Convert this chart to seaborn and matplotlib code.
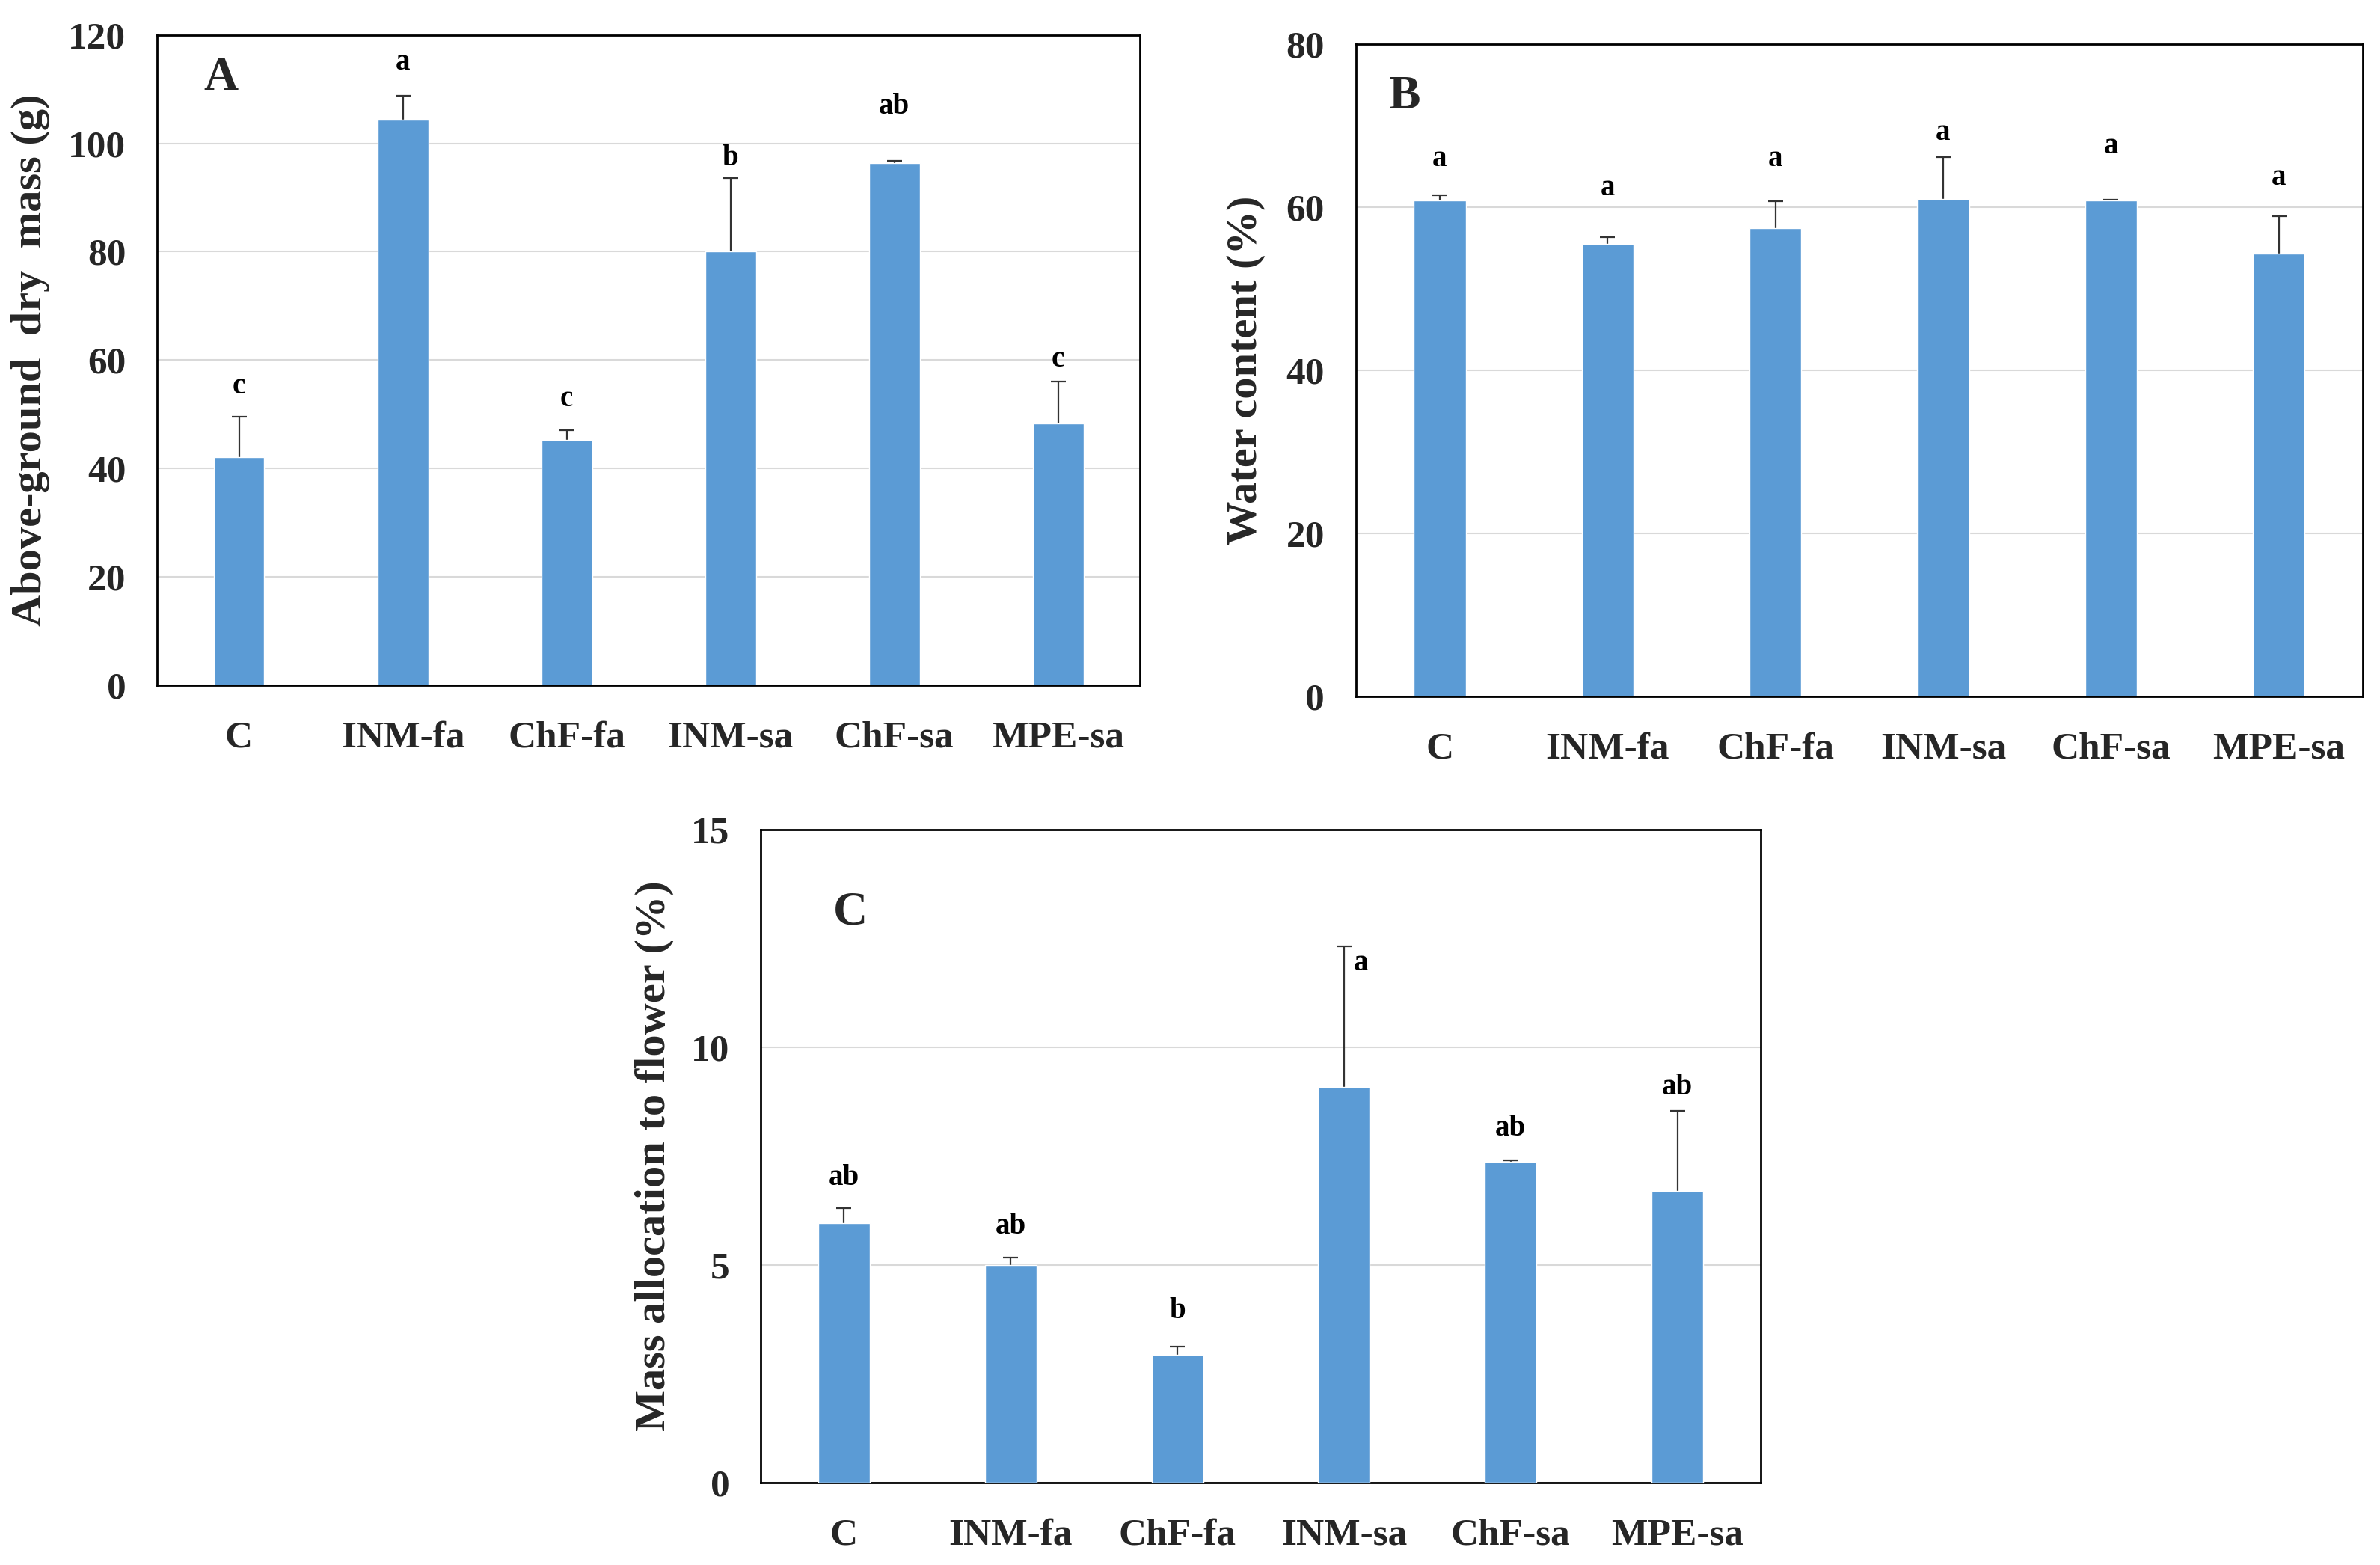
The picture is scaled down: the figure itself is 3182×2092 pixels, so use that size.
import numpy as np
import pandas as pd
import seaborn as sns
import matplotlib
matplotlib.use("Agg")
import matplotlib.pyplot as plt

# ---------------- data ----------------
categories = ["C", "INM-fa", "ChF-fa", "INM-sa", "ChF-sa", "MPE-sa"]

mass_mean = [42.1, 104.3, 45.3, 80.0, 96.4, 48.3]
mass_err = [7.4, 4.5, 1.8, 13.6, 0.3, 7.7]
mass_letters = ["c", "a", "c", "b", "ab", "c"]
mass_letter_y = [55.1, 114.9, 52.8, 97.3, 106.7, 60.1]

water_mean = [60.8, 55.5, 57.4, 61.0, 60.8, 54.3]
water_err = [0.7, 0.8, 3.3, 5.1, 0.1, 4.6]
water_letters = ["a", "a", "a", "a", "a", "a"]
water_letter_y = [65.9, 62.3, 65.9, 69.1, 67.5, 63.6]

flower_mean = [5.97, 5.0, 2.94, 9.09, 7.38, 6.7]
flower_err = [0.33, 0.17, 0.19, 3.23, 0.03, 1.84]
flower_letters = ["ab", "ab", "b", "a", "ab", "ab"]
flower_letter_y = [7.0, 5.89, 3.94, 11.94, 8.13, 9.09]
flower_letter_dx = [0, 0, 0, 0.1, 0, 0]

# ---------------- style ----------------
sns.set_theme(style="white")
plt.rcParams["font.family"] = ["Liberation Serif", "DejaVu Serif"]
plt.rcParams["font.weight"] = "bold"

BAR = "#5B9BD5"
fig = plt.figure(figsize=(31.82, 20.92), dpi=100)

axA = fig.add_axes([0.0660, 0.5622, 0.4130, 0.4155])
axB = fig.add_axes([0.5697, 0.5550, 0.4230, 0.4168])
axC = fig.add_axes([0.3196, 0.0526, 0.4202, 0.4172])


def panel(ax, means, errs, letters, letter_y, ymax, step, ylabel, tag, tag_xy,
          label_x, letter_dx=None):
    df = pd.DataFrame({"cat": categories, "val": means})
    sns.barplot(data=df, x="cat", y="val", order=categories, color=BAR,
                saturation=1, width=0.31, errorbar=None, ax=ax, zorder=3)
    xs = np.arange(len(categories))
    # symmetric bars drawn behind the columns: only the upper half shows
    ax.errorbar(xs, means, yerr=errs, fmt="none",
                ecolor="#333333", elinewidth=1.6, capsize=7, capthick=1.6,
                zorder=2.5)
    if letter_dx is None:
        letter_dx = [0] * len(categories)
    for x, l, y, dx in zip(xs, letters, letter_y, letter_dx):
        ax.text(x + dx, y, l, ha="center", va="center", fontsize=28,
                fontweight="bold", color="black", zorder=5)
    ax.set_ylim(0, ymax)
    ax.set_xlim(-0.5, len(categories) - 0.5)
    ax.set_yticks(np.arange(0, ymax + step / 2, step))
    ax.yaxis.grid(True, color="#d9d9d9", linewidth=1.5, zorder=0)
    ax.set_axisbelow(True)
    ax.set_xlabel("")
    ax.set_ylabel(ylabel, fontsize=42, fontweight="bold")
    ax.yaxis.set_label_coords(label_x, 0.5)
    ax.tick_params(axis="both", length=0, labelsize=37)
    ax.tick_params(axis="x", pad=34)
    ax.tick_params(axis="y", pad=30)
    for lab in ax.get_xticklabels() + ax.get_yticklabels():
        lab.set_fontweight("bold")
    for s in ax.spines.values():
        s.set_visible(True)
        s.set_color("black")
        s.set_linewidth(2.0)
    ax.text(tag_xy[0], tag_xy[1], tag, transform=ax.transAxes,
            fontsize=46, fontweight="bold", ha="center", va="center")


panel(axA, mass_mean, mass_err, mass_letters, mass_letter_y, 120, 20,
      "Above-ground  dry  mass (g)", "A", (0.065, 0.933), -0.109)
panel(axB, water_mean, water_err, water_letters, water_letter_y, 80, 20,
      "Water content (%)", "B", (0.049, 0.918), -0.090)
panel(axC, flower_mean, flower_err, flower_letters, flower_letter_y, 15, 5,
      "Mass allocation to flower (%)", "C", (0.09, 0.873), -0.087,
      letter_dx=flower_letter_dx)

fig.savefig("out.png", dpi=100, facecolor="white")
